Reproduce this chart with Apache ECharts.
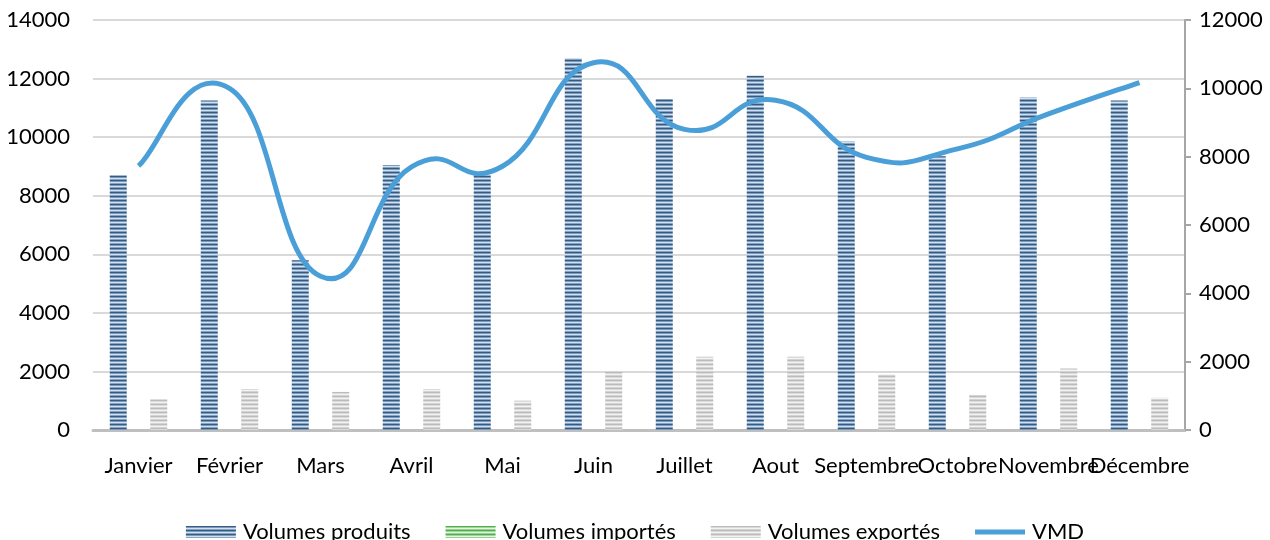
<!DOCTYPE html>
<html>
<head>
<meta charset="utf-8">
<script src="https://cdn.jsdelivr.net/npm/echarts@6/dist/echarts.min.js"></script>
<style>
  html, body { margin: 0; padding: 0; background: #fff; }
  #chart { width: 1270px; height: 540px; }
</style>
</head>
<body>
<div id="chart"></div>
<script>
// Monthly volumes (left axis) and VMD (right axis)
const months = ['Janvier', 'Février', 'Mars', 'Avril', 'Mai', 'Juin', 'Juillet', 'Aout', 'Septembre', 'Octobre', 'Novembre', 'Décembre'];
const volumesProduits = [8700, 11250, 5800, 9050, 8700, 12700, 11300, 12100, 9850, 9350, 11350, 11250];
const volumesImportes = [0, 0, 0, 0, 0, 0, 0, 0, 0, 0, 0, 0];
const volumesExportes = [1050, 1400, 1300, 1400, 1000, 2000, 2500, 2500, 1900, 1200, 2100, 1100];
const vmd = [7730, 10000, 4500, 7700, 7720, 10750, 8800, 9650, 7980, 8230, 9250, 10170];
const leftTicks = { min: 0, max: 14000, interval: 2000 };
const rightTicks = { min: 0, max: 12000, interval: 2000 };

// Horizontal stripe fill used for the bars and their legend swatches
function stripes(rows) {
  const c = document.createElement('canvas');
  c.width = 4;
  c.height = rows.length;
  const ctx = c.getContext('2d');
  rows.forEach((col, i) => { ctx.fillStyle = col; ctx.fillRect(0, i, 4, 1); });
  return { image: c, repeat: 'repeat' };
}
const blueFill = stripes(['#385a7c', '#7b9bbe', '#d0e0f1', '#85a4c5']);
const greenFill = stripes(['#4fae4f', '#9fd69a', '#e4f4e1', '#97d191']);
const greyFill = stripes(['#bcbcbc', '#dadada', '#f3f3f3', '#d3d3d3']);
const lineColor = '#4a9fd8';

const txt = { color: '#000', fontFamily: 'Lato', fontSize: 22 };

// Smooth curve through the projected VMD points (cubic Bezier, Catmull-Rom style)
const TENSION = 0.25;
function smoothPath(pts) {
  let d = 'M' + pts[0][0] + ' ' + pts[0][1];
  for (let i = 0; i < pts.length - 1; i++) {
    const p0 = pts[Math.max(i - 1, 0)];
    const p1 = pts[i];
    const p2 = pts[i + 1];
    const p3 = pts[Math.min(i + 2, pts.length - 1)];
    const c1x = p1[0] + (p2[0] - p0[0]) * TENSION;
    const c1y = p1[1] + (p2[1] - p0[1]) * TENSION;
    const c2x = p2[0] - (p3[0] - p1[0]) * TENSION;
    const c2y = p2[1] - (p3[1] - p1[1]) * TENSION;
    d += ' C' + c1x + ' ' + c1y + ' ' + c2x + ' ' + c2y + ' ' + p2[0] + ' ' + p2[1];
  }
  return d;
}

const chart = echarts.init(document.getElementById('chart'), null, { renderer: 'canvas' });
chart.setOption({
  animation: false,
  backgroundColor: '#fff',
  grid: { left: 93, right: 85, top: 20, bottom: 110 },
  legend: {
    top: 516,
    left: 'center',
    itemWidth: 50,
    itemHeight: 12,
    itemGap: 35,
    textStyle: Object.assign({}, txt, { padding: [0, 0, 0, 2] }),
    data: [
      { name: 'Volumes produits', icon: 'rect' },
      { name: 'Volumes importés', icon: 'rect' },
      { name: 'Volumes exportés', icon: 'rect' },
      { name: 'VMD', icon: 'path://M0,0H50V5H0Z', itemStyle: { color: lineColor } }
    ]
  },
  xAxis: {
    type: 'category',
    data: months,
    axisTick: { show: false },
    axisLine: { lineStyle: { color: '#bfbfbf', width: 3 } },
    axisLabel: Object.assign({}, txt, { interval: 0, margin: 25 })
  },
  yAxis: [
    {
      type: 'value',
      min: leftTicks.min, max: leftTicks.max, interval: leftTicks.interval,
      axisLine: { show: false },
      axisTick: { show: false },
      splitLine: { lineStyle: { color: '#d9d9d9', width: 2 } },
      axisLabel: Object.assign({}, txt, { margin: 23, formatter: v => String(v) })
    },
    {
      type: 'value',
      min: rightTicks.min, max: rightTicks.max, interval: rightTicks.interval,
      position: 'right',
      axisLine: { show: true, lineStyle: { color: '#a6a6a6', width: 2 } },
      axisTick: { show: true, length: 6, lineStyle: { color: '#a6a6a6', width: 2 } },
      splitLine: { show: false },
      axisLabel: Object.assign({}, txt, { margin: 14, formatter: v => String(v) })
    }
  ],
  series: [
    {
      name: 'Volumes produits', type: 'bar', data: volumesProduits,
      barWidth: 17, barGap: '19%',
      itemStyle: { color: blueFill }
    },
    {
      name: 'Volumes importés', type: 'bar', data: volumesImportes,
      barWidth: 17, barGap: '19%',
      itemStyle: { color: greenFill }
    },
    {
      name: 'Volumes exportés', type: 'bar', data: volumesExportes,
      barWidth: 17, barGap: '19%',
      itemStyle: { color: greyFill }
    },
    {
      name: 'VMD', type: 'custom', yAxisIndex: 1,
      data: vmd.map((v, i) => [i, v]),
      encode: { x: 0, y: 1 },
      itemStyle: { color: lineColor },
      z: 5,
      renderItem: function (params, api) {
        if (params.dataIndexInside !== 0) return null;
        const pts = [];
        for (let i = 0; i < params.dataInsideLength; i++) {
          pts.push(api.coord([api.value(0, i), api.value(1, i)]));
        }
        return {
          type: 'path',
          shape: { pathData: smoothPath(pts) },
          style: { fill: 'none', stroke: lineColor, lineWidth: 5 }
        };
      }
    }
  ]
});
</script>
</body>
</html>
